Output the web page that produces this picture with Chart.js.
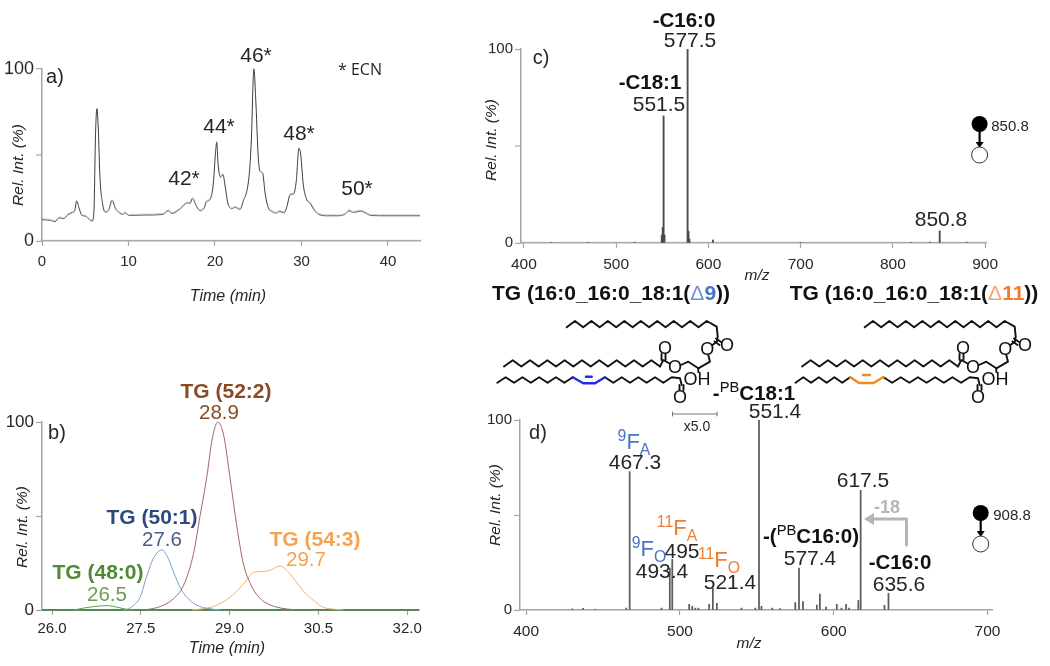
<!DOCTYPE html>
<html><head><meta charset="utf-8">
<script src="https://cdn.jsdelivr.net/npm/chart.js@4"></script>
<style>
html,body{margin:0;padding:0;background:#fff}
#page{position:relative;width:1050px;height:666px;overflow:hidden;font-family:"Liberation Sans",Arial,sans-serif;color:#222;filter:blur(.35px)}
canvas.p{position:absolute}
svg#art{position:absolute;left:0;top:0}
.t{position:absolute;transform:translate(-50%,-50%);white-space:nowrap;line-height:1}
.t sup,.t sub{font-size:.72em;line-height:0;font-weight:400}
.t sub{position:relative;top:.02em;vertical-align:sub}
.t sup{vertical-align:super}
</style></head><body>
<div id="page">
<canvas class="p" id="ca"></canvas><canvas class="p" id="cb"></canvas><canvas class="p" id="cc"></canvas><canvas class="p" id="cd"></canvas>
<svg id="art" width="1050" height="666"></svg>
</div>
<script>
// ---- data ----
const ticksATime=[0,10,20,30,40];
const ticksBTime=[26,27.5,29,30.5,32];
const ticksCMz=[400,500,600,700,800,900];
const ticksDMz=[400,500,600,700];
const ticksRel=[0,50,100];

const chromTime=[0,1,1.5,2,2.5,3,3.5,3.8,4,4.3,4.6,5,5.5,5.8,6,6.2,6.35,6.5,6.7,7,7.3,7.7,8.1,8.5,9,9.3,9.6,10,12,14,14.6,15,16,16.8,17.1,17.4,17.8,18.3,18.8,19,19.4,19.8,20.05,20.2,20.35,20.65,20.9,21.2,21.5,22,22.3,22.9,23.3,23.7,24,24.2,24.5,24.7,25,25.2,25.5,25.8,26.2,26.6,27,27.5,28,28.3,28.7,29.1,29.4,29.7,29.9,30.2,30.6,31,31.5,32,33,34,35,35.5,36,36.8,37.3,38,40,43.7];
const chromRel=[12.4,12,11.2,13.5,13,15.3,16.6,17.8,23.2,18.8,14.9,14.5,12.4,11.6,16.8,64,76.8,66,37,21.7,16.8,17.8,23.6,18.8,16.2,15.5,16.4,14.9,15.1,15.5,17.6,16,18.8,22.2,21.7,24.8,20.7,17.6,19.7,22.8,24,33,50.7,57.4,45,37,38.7,31,21.7,18.8,19.6,18.4,23.6,29.4,41,58.4,100,83.6,48.7,40.6,39.5,27.5,18.8,17.2,16.2,17.2,16.4,19.7,27,27.4,35,53.8,50.7,33,24,22,17.8,15.5,14.7,14.7,15.5,17.6,16.6,17.4,16.6,14.9,14.7,14.7];

const tg48Time=[26.37,26.53,26.76,26.93,27.1,27.27,27.4];
const tg48Rel=[0,1,2,2.3,1.5,0.3,0];
const tg50Time=[27.2,27.27,27.38,27.49,27.6,27.72,27.86,27.97,28.08,28.2,28.3,28.45,28.6,28.85];
const tg50Rel=[0,0.4,2.5,7,18,28,32,27,18,10,6,2.5,1,0];
const tg52Time=[27.5,27.66,27.88,28.05,28.22,28.39,28.5,28.62,28.7,28.8,28.9,29,29.12,29.23,29.35,29.49,29.63,29.8,29.97,30.2];
const tg52Rel=[0,0.5,2.5,6,13,30,50,72,90,100,93,72,45,25,14,7,3.5,1.5,0.5,0];
const tg54Time=[28.36,28.62,28.78,28.95,29.12,29.29,29.4,29.57,29.71,29.85,29.97,30.1,30.25,30.42,30.58,30.75,30.92];
const tg54Rel=[0,1,2.5,5.5,10,16,20,20.5,21.5,23.5,21,16,10,5,1.5,0.5,0];
const baseTime=[25.83,32.2];
const baseRel=[0,0];

const ms2cMz=[430,470,520,549.5,550.5,551.5,552.5,577.5,578.5,579.5,605,700,820,840,850.8,880];
const ms2cRel=[0.3,0.3,0.4,4,8,65.5,4,100,6,2,1.5,0.3,0.3,0.4,6.2,0.4];

const ms2dMz=[430,437,445,465,467.3,488,493.4,495,506,508,510,512,519,521.4,524,540,549,551.4,553,560,565,575,577.4,580,589,591,595,602,605,608,610,616,617.5,633,635.6];
const ms2dRel=[0.6,0.9,0.4,1,72.8,1,22,26.7,3,2,1,1,3,11.4,3.5,1,1,100,2,1,0.8,3.9,22,4.4,2.6,8.4,1.5,3,1,3,1,5,63,2.5,8.8];

const xyOf=(xs,ys)=>xs.map((x,i)=>({x,y:ys[i]}));

// ---- layout (page pixels) ----
const FONT='"Liberation Sans",Arial,sans-serif';
const AXIS='#a3a3a3', INK='#262626';
const M={l:45,r:40,t:12,b:40};

function panel(id,rect,datasets,type,xTicks,sizes){
  const c=document.getElementById(id);
  const W=rect.x1-rect.x0+M.l+M.r, H=rect.y1-rect.y0+M.t+M.b;
  c.width=W;c.height=H;c.style.left=(rect.x0-M.l)+'px';c.style.top=(rect.y0-M.t)+'px';
  c.style.width=W+'px';c.style.height=H+'px';
  new Chart(c,{type,data:{datasets},options:{
    responsive:false,animation:false,devicePixelRatio:1,
    layout:{padding:{left:0,right:M.r,top:M.t,bottom:0}},
    plugins:{legend:{display:false},tooltip:{enabled:false}},
    elements:{point:{radius:0}},
    scales:{
      x:{type:'linear',offset:false,min:rect.xMin,max:rect.xMax,
        afterBuildTicks:s=>{s.ticks=xTicks.map(v=>({value:v}))},
        afterFit:s=>{s.height=M.b;s.paddingRight=0},
        border:{color:AXIS,width:1.5},
        grid:{offset:false,drawOnChartArea:false,drawTicks:true,tickLength:5,tickColor:AXIS,tickWidth:1.2},
        ticks:{autoSkip:false,maxRotation:0,padding:sizes.xpad,color:INK,font:{family:FONT,size:sizes.x},
          callback:v=>sizes.fmt?Number(v).toFixed(1):String(v)}},
      y:{type:'linear',min:0,max:100,
        afterBuildTicks:s=>{s.ticks=ticksRel.map(v=>({value:v}))},
        afterFit:s=>{s.width=M.l},
        border:{color:AXIS,width:1.5},
        grid:{drawOnChartArea:false,drawTicks:true,tickLength:sizes.ytl||6,tickColor:AXIS,tickWidth:1.2},
        ticks:{autoSkip:false,padding:2,color:INK,font:{family:FONT,size:sizes.y},callback:v=>v===50?'':String(v)}}
    }}});
}
const line=(xs,ys,color,w)=>({data:xyOf(xs,ys),borderColor:color,borderWidth:w,pointRadius:0,fill:false,cubicInterpolationMode:'monotone',clip:false});
const bars=(xs,ys,color,w)=>({data:xyOf(xs,ys),backgroundColor:color,borderWidth:0,barThickness:w,grouped:false});

panel('ca',{x0:41.5,x1:419.5,y0:68,y1:240.7,xMin:0,xMax:43.7},[line(chromTime,chromRel,'#3a3a3a',1)],'line',ticksATime,{x:15,y:18,xpad:7});
panel('cb',{x0:41.5,x1:419,y0:421.7,y1:610,xMin:25.83,xMax:32.2},[
  line(tg52Time,tg52Rel,'#a5636b',1),line(tg50Time,tg50Rel,'#7f9fca',1),line(tg54Time,tg54Rel,'#f8ad68',1),
  line(tg48Time,tg48Rel,'#5fa04a',1),line(baseTime,baseRel,'#2f7d2f',1.6)],'line',ticksBTime,{x:15,y:17,xpad:5,fmt:true});
panel('cc',{x0:520.5,x1:985.5,y0:49.3,y1:242.7,xMin:396.9,xMax:901},[bars(ms2cMz,ms2cRel,'#4a4a4a',1.2)],'bar',ticksCMz,{x:15.5,y:15,xpad:7});
panel('cd',{x0:520,x1:992,y0:420,y1:610,xMin:396,xMax:702.9},[bars(ms2dMz,ms2dRel,'#5c5c5c',1.1)],'bar',ticksDMz,{x:15.5,y:15,xpad:7});

// ---- text annotations ----
const blue='#4a74c8',orange='#ee7d31',brown='#8a4a24',navy='#2d4a80',navy2='#4a5d85',gold='#f8a24c',green='#4f8a35',green2='#6d9d55';
const labels=[
 ['a)',55,76,20],['46*',256,54,21],['44*',219,125,21],['42*',184,177,21],['48*',299,132,21],['50*',357,187,21],
 ['* ECN',360,69,16,INK,0,0,'"Open Sans"'],
 ['Time (min)',228,296,16,INK,0,1],['Rel. Int. (%)',18,165,15.5,INK,0,1,null,1],
 ['b)',57,432,20],
 ['TG (52:2)',226,390,21,brown,1],['28.9',219,412,20.5,brown],
 ['TG (50:1)',152,516,21,navy,1],['27.6',162,539,20.5,navy2],
 ['TG (54:3)',315,538,21,gold,1],['29.7',306,559,20.5,gold],
 ['TG (48:0)',98,571,21,green,1],['26.5',107,594,20.5,green2],
 ['Time (min)',227,648,16,INK,0,1],['Rel. Int. (%)',22,527,15.5,INK,0,1,null,1],
 ['c)',541,57,20],['-C16:0',684,20,20.5,'#111',1],['577.5',690,39,21],['-C18:1',650,82,20.5,'#111',1],['551.5',659,103,21],['850.8',941,218,21],
 ['850.8',1010,125,15],['m/z',757,275,15.5,INK,0,1],['Rel. Int. (%)',491,140,15.5,INK,0,1,null,1],
 ['TG (16:0_16:0_18:1(<span style="color:#6f94d6;font-weight:400">Δ</span><span style="color:'+blue+'">9</span>))',611,292,21,'#111',1],
 ['TG (16:0_16:0_18:1(<span style="color:#f3a46e;font-weight:400">Δ</span><span style="color:'+orange+'">11</span>))',914,292,21,'#111',1],
 ['-<sup>PB</sup>C18:1',754,393,20.5,'#111',1],['551.4',775,410,21],['x5.0',697,426,14],
 ['d)',538,432,20],
 ['<sup>9</sup>F<sub>A</sub>',634,442,22,blue],['467.3',635,461,21],
 ['<sup>11</sup>F<sub>A</sub>',677,528,22,orange],['495',682,550,21],
 ['<sup>9</sup>F<sub>O</sub>',649,549,22,blue],['493.4',662,570,21],
 ['<sup>11</sup>F<sub>O</sub>',719,560,22,orange],['521.4',730,581,21],
 ['-(<sup>PB</sup>C16:0)',811,536,20.5,'#111',1],['577.4',810,557,21],
 ['617.5',863,479,21],['-18',887,507,18,'#b5b5b5',1],['-C16:0',900,562,20.5,'#111',1],['635.6',899,583,21],
 ['908.8',1012,514,15],['m/z',749,643,15.5,INK,0,1],['Rel. Int. (%)',495,505,15.5,INK,0,1,null,1]
];
const page=document.getElementById('page');
for(const [txt,x,y,size,color,bold,ital,fam,rot] of labels){
  const s=document.createElement('div');s.className='t';s.innerHTML=txt;
  s.style.left=x+'px';s.style.top=y+'px';s.style.fontSize=size+'px';s.style.color=color||INK;
  if(bold)s.style.fontWeight='700';if(ital)s.style.fontStyle='italic';if(fam)s.style.fontFamily=fam;
  if(rot)s.style.transform='translate(-50%,-50%) rotate(-90deg)';
  page.appendChild(s);
}

// ---- structures and small decorations (artwork, not data) ----
const art=document.getElementById('art');
const NS='http://www.w3.org/2000/svg';
function el(tag,a){const e=document.createElementNS(NS,tag);for(const k in a)e.setAttribute(k,a[k]);art.appendChild(e);return e}
const poly=(pts,color,w)=>el('polyline',{points:pts.map(p=>p.join(',')).join(' '),fill:'none',stroke:color||'#111','stroke-width':w||1.9,'stroke-linejoin':'round','stroke-linecap':'round'});
function zig(x0,y0,x1,n,dy){const p=[];for(let i=0;i<=n;i++)p.push([x0+(x1-x0)*i/n,y0+(i%2?dy:0)]);return p}
function atom(t,x,y){const s=document.createElement('div');s.className='t';s.textContent=t;s.style.left=x+'px';s.style.top=y+'px';s.style.fontSize='18px';s.style.color='#111';page.appendChild(s)}
function structure(dx,lowChainA,lowChainB,acc,dash,acol){
  poly(zig(566.7+dx,327.3,706.7+dx,17,-6.3).concat([[716.7+dx,326.7],[717.7+dx,336.7],[716.7+dx,341.7]]));
  poly([[716.7+dx,341.7],[712.5+dx,345]]);
  poly([[716+dx,338.5],[721+dx,342]]);poly([[714.5+dx,341.5],[719.5+dx,345]]);
  poly([[708.3+dx,355],[710+dx,361.7],[698.3+dx,368.3],[688.3+dx,361.7],[681+dx,365]]);
  atom('O',707.3+dx,349);atom('O',727+dx,345);
  poly(zig(504+dx,366.5,660+dx,18,-6.3));
  poly([[660+dx,366.5],[663.3+dx,360],[669.5+dx,363.5]]);
  poly([[661.5+dx,360],[661.5+dx,354]]);poly([[665.5+dx,360],[665.5+dx,354]]);
  atom('O',665+dx,348);atom('O',675+dx,367);
  poly([[698.3+dx,368.3],[698.3+dx,372]]);
  poly(lowChainA);poly(lowChainB);
  poly(acc,acol,2.4);poly(dash,acol,2.4);
  poly([[679.5+dx,385],[679.5+dx,390]]);poly([[683.5+dx,385],[683.5+dx,390]]);
  atom('O',680+dx,396.5);
  const s=document.createElement('div');s.className='t';s.textContent='OH';s.style.left=(697+dx)+'px';s.style.top='378.5px';s.style.fontSize='18px';s.style.color='#111';page.appendChild(s);
}
const CO=(x)=>[[x+8.3,378.3],[x+10,385]];
structure(0,zig(497.3,382.7,572.7,9,-5.4),zig(605,377.3,671.7,8,5.4).concat(CO(671.7)).concat([[674,381]]).slice(0,-1),[[572.7,377.3],[583.3,383.3],[595,383.3],[605,377.3]],[[586,376.7],[591.7,376.7]],'#1f2fd6');
structure(298,zig(795.5,382.7,850,7,-5.4),zig(883.5,377.3,969.7,10,5.4).concat(CO(969.7)),[[850,377],[859,383],[873.6,383],[883.5,377]],[[863,375],[870,375]],'#ef8a22');
// x5.0 bracket
poly([[672.5,414],[717,414]],'#777',1);poly([[672.5,412],[672.5,416]],'#777',1);poly([[717,412],[717,416]],'#777',1);
// -18 arrow
poly([[906.5,545],[906.5,519],[872,519]],'#b5b5b5',3);
el('polygon',{points:'864,519 874,513 874,525',fill:'#b5b5b5'});
// precursor icons
function icon(x,y1,y2){
  el('circle',{cx:x,cy:y1,r:8,fill:'#000'});
  poly([[x,y1+6],[x,y2-11]],'#000',2.2);
  el('polygon',{points:`${x-4},${y2-13} ${x+4},${y2-13} ${x},${y2-7}`,fill:'#000'});
  el('circle',{cx:x,cy:y2,r:8,fill:'#fff',stroke:'#333','stroke-width':1});
}
icon(979.6,124,155);icon(980.7,513,544);
</script>
</body></html>
